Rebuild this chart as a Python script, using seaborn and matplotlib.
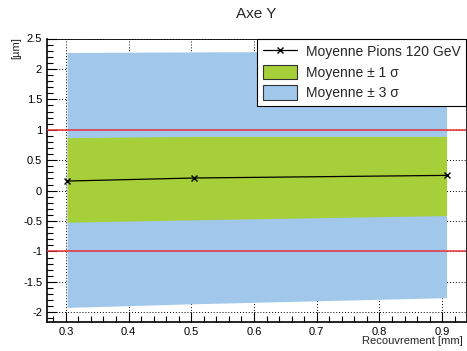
import matplotlib
matplotlib.use("Agg")
import matplotlib.pyplot as plt
import seaborn as sns
import pandas as pd
import numpy as np
from matplotlib.patches import Patch
from matplotlib.lines import Line2D
from matplotlib.ticker import MultipleLocator

recouvrement = [0.302, 0.505, 0.907]
moyenne = [0.157, 0.207, 0.250]
plus_1sigma = [0.87, 0.89, 0.89]
moins_1sigma = [-0.52, -0.48, -0.41]
plus_3sigma = [2.27, 2.28, 2.29]
moins_3sigma = [-1.92, -1.86, -1.76]
seuils = [1.0, -1.0]

sns.set_theme(style="ticks")
plt.rcParams['font.family'] = ['Liberation Sans', 'DejaVu Sans']

fig = plt.figure(figsize=(4.67, 3.51), dpi=100)
ax = fig.add_axes([47/467, 1-322/351, (466-47)/467, (322-38.5)/351])

df = pd.DataFrame({"x": recouvrement, "m": moyenne})

blue = "#a1c8eb"
green = "#a6cf39"
ax.grid(True, which='major', color='black', linestyle=(0, (1, 2)), linewidth=0.7, zorder=0)
ax.set_axisbelow(True)
ax.fill_between(recouvrement, moins_3sigma, plus_3sigma, color=blue, linewidth=0, zorder=1)
ax.fill_between(recouvrement, moins_1sigma, plus_1sigma, color=green, linewidth=0, zorder=2)
for s in seuils:
    ax.axhline(s, color="#e8303a", linewidth=1.1, zorder=3)
sns.lineplot(data=df, x="x", y="m", ax=ax, color="black", linewidth=0.9,
             marker="x", markersize=5, markeredgewidth=1.0, markeredgecolor="black", zorder=4)

ax.set_xlim(0.27, 0.938)
ax.set_ylim(-2.16, 2.5)
ax.xaxis.set_major_locator(MultipleLocator(0.1))
ax.xaxis.set_minor_locator(MultipleLocator(0.02))
ax.yaxis.set_major_locator(MultipleLocator(0.5))
ax.yaxis.set_minor_locator(MultipleLocator(0.1))
ax.tick_params(which='both', direction='in', labelsize=8, colors='black', top=False, right=False)
ax.tick_params(which='major', length=7, width=0.8)
ax.tick_params(which='minor', length=4, width=0.8)
ax.yaxis.set_major_formatter(matplotlib.ticker.FuncFormatter(lambda v, p: f"{v:g}"))
ax.xaxis.set_major_formatter(matplotlib.ticker.FuncFormatter(lambda v, p: f"{v:g}"))
for sp in ax.spines.values():
    sp.set_color('black')
    sp.set_linewidth(0.6)
ax.spines['left'].set_linewidth(1.2)
ax.spines['bottom'].set_linewidth(1.2)

ax.set_xlabel("")
ax.set_ylabel("")
fig.text(463/467, 1-341/351, "Recouvrement [mm]", ha='right', va='center', fontsize=8)
fig.text(16/467, 1-48/351, "[µm]", rotation=90, ha='center', va='center', fontsize=8)
fig.text(256.5/467, 1-14.5/351, "Axe Y", ha='center', va='center', fontsize=11)

handles = [Line2D([0], [0], color='black', linewidth=0.9, marker='x', markersize=5),
           Patch(facecolor=green, edgecolor='#333333', linewidth=0.8),
           Patch(facecolor=blue, edgecolor='#333333', linewidth=0.8)]
labels = ["Moyenne Pions 120 GeV", "Moyenne \u00b1 1 \u03c3", "Moyenne \u00b1 3 \u03c3"]
leg = fig.legend(handles, labels, loc='upper left', bbox_to_anchor=(257/467, 1-39/351),
                 fontsize=10, frameon=True, fancybox=False, framealpha=1, edgecolor='black',
                 borderpad=0.4, labelspacing=0.4, handlelength=2.5, handleheight=1.2,
                 handletextpad=0.6, borderaxespad=0)
leg.get_frame().set_linewidth(0.8)
leg.set_zorder(10)

fig.savefig("out.png", dpi=100)
